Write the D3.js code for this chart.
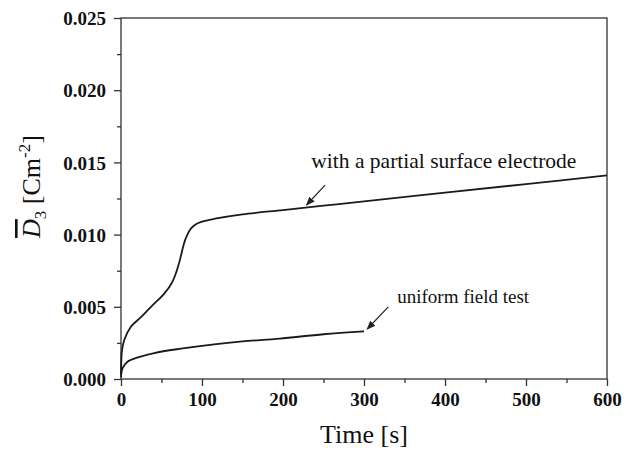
<!DOCTYPE html>
<html>
<head>
<meta charset="utf-8">
<script src="https://cdn.jsdelivr.net/npm/d3@7"></script>
<style>
  body { margin: 0; background: #fff; }
  svg text { font-family: "Liberation Serif", "DejaVu Serif", serif !important; fill: #111; }
</style>
</head>
<body>
<div id="vis"></div>
<script>
const FRAME_WIDTH = 639;
const FRAME_HEIGHT = 452;
const MARGINS = {left: 121, right: 32, top: 18, bottom: 73};
const VIS_WIDTH = FRAME_WIDTH - MARGINS.left - MARGINS.right;
const VIS_HEIGHT = FRAME_HEIGHT - MARGINS.top - MARGINS.bottom;

// partial surface electrode curve
const upperT = [0, 0.5, 1, 4, 12, 25, 37, 50, 56, 60, 64, 67, 70, 73, 76, 79, 82, 86, 92, 100, 116, 150, 200, 250, 300, 400, 500, 600];
const upperD = [0.0003, 0.0014, 0.0019, 0.0027, 0.0036, 0.0043, 0.0050, 0.0057, 0.0061, 0.0064, 0.0068, 0.0072, 0.0077, 0.0083, 0.0090, 0.0096, 0.0100, 0.0104, 0.0107, 0.0109, 0.0111, 0.0114, 0.0117, 0.0120, 0.0123, 0.0129, 0.0135, 0.0141];

// uniform field test curve
const lowerT = [0, 0.5, 2, 8, 21, 41, 74, 115, 150, 196, 250, 300];
const lowerD = [0.0001, 0.0004, 0.00075, 0.0012, 0.0015, 0.0018, 0.0021, 0.0024, 0.0026, 0.0028, 0.0031, 0.0033];

const xTicks = [0, 100, 200, 300, 400, 500, 600];
const yTicks = [0, 0.005, 0.010, 0.015, 0.020, 0.025];

// annotations: label position, arrow tail, arrow tip (data units)
const notes = [
  {text: "with a partial surface electrode", size: 21.5, lx: 235, ly: 0.0146, tx: 252, ty: 0.01343, hx: 229, hy: 0.01205},
  {text: "uniform field test", size: 19, lx: 341, ly: 0.00526, tx: 330, ty: 0.00499, hx: 304, hy: 0.00346}
];

const svg = d3.select("#vis").append("svg")
  .attr("width", FRAME_WIDTH)
  .attr("height", FRAME_HEIGHT);

const X_SCALE = d3.scaleLinear().domain([0, 600]).range([0, VIS_WIDTH]);
const Y_SCALE = d3.scaleLinear().domain([0, 0.025]).range([VIS_HEIGHT, 0]);

const g = svg.append("g")
  .attr("transform", "translate(" + MARGINS.left + "," + MARGINS.top + ")");

// frame
g.append("rect")
  .attr("width", VIS_WIDTH).attr("height", VIS_HEIGHT)
  .attr("fill", "none").attr("stroke", "#333").attr("stroke-width", 1.3);

// minor ticks
const xAxisMinor = g.append("g")
  .attr("transform", "translate(0," + VIS_HEIGHT + ")")
  .call(d3.axisBottom(X_SCALE).tickValues(d3.range(50, 600, 100)).tickSize(4).tickFormat(""));
const yAxisMinor = g.append("g")
  .call(d3.axisLeft(Y_SCALE).tickValues(d3.range(0.0025, 0.025, 0.005)).tickSize(4).tickFormat(""));

const xAxis = g.append("g")
  .attr("transform", "translate(0," + VIS_HEIGHT + ")")
  .call(d3.axisBottom(X_SCALE).tickValues(xTicks).tickSize(7).tickPadding(4).tickFormat(d3.format("d")));
const yAxis = g.append("g")
  .call(d3.axisLeft(Y_SCALE).tickValues(yTicks).tickSize(7).tickPadding(8).tickFormat(d3.format(".3f")));

[xAxisMinor, yAxisMinor, xAxis, yAxis].forEach(a => {
  a.attr("font-family", null);
  a.select(".domain").remove();
  a.selectAll("line").attr("stroke", "#333").attr("stroke-width", 1.3);
});
[xAxis, yAxis].forEach(a => {
  a.selectAll("text")
    .style("font-weight", "bold")
    .style("font-size", "19px")
    .attr("fill", "#111");
});
xAxis.selectAll("text").attr("dy", "0.85em");
yAxis.selectAll("text").attr("dy", "0.35em");

// curves
const line = d3.line()
  .x(d => X_SCALE(d[0]))
  .y(d => Y_SCALE(d[1]))
  .curve(d3.curveCatmullRom.alpha(0.5));

g.append("path")
  .datum(d3.zip(upperT, upperD))
  .attr("d", line)
  .attr("fill", "none").attr("stroke", "#1a1a1a").attr("stroke-width", 1.8);

g.append("path")
  .datum(d3.zip(lowerT, lowerD))
  .attr("d", line)
  .attr("fill", "none").attr("stroke", "#1a1a1a").attr("stroke-width", 1.8);

// arrow marker
svg.append("defs").append("marker")
  .attr("id", "arrow")
  .attr("viewBox", "0 0 10 10")
  .attr("refX", 9).attr("refY", 5)
  .attr("markerWidth", 9).attr("markerHeight", 9)
  .attr("markerUnits", "userSpaceOnUse")
  .attr("orient", "auto")
  .append("path")
    .attr("d", "M0,1 L10,5 L0,9 Z")
    .attr("fill", "#222");

notes.forEach(n => {
  g.append("line")
    .attr("x1", X_SCALE(n.tx)).attr("y1", Y_SCALE(n.ty))
    .attr("x2", X_SCALE(n.hx)).attr("y2", Y_SCALE(n.hy))
    .attr("stroke", "#222").attr("stroke-width", 1.2)
    .attr("marker-end", "url(#arrow)");
  g.append("text")
    .attr("x", X_SCALE(n.lx)).attr("y", Y_SCALE(n.ly))
    .style("font-size", n.size + "px")
    .text(n.text);
});

// axis titles
svg.append("text")
  .attr("x", MARGINS.left + VIS_WIDTH / 2).attr("y", 443)
  .attr("text-anchor", "middle")
  .style("font-size", "26px")
  .text("Time [s]");

const yTitle = svg.append("text")
  .attr("transform", "translate(40," + (MARGINS.top + VIS_HEIGHT / 2 - 12) + ") rotate(-90)")
  .attr("text-anchor", "middle")
  .style("font-size", "26px");
yTitle.append("tspan").style("font-style", "italic").attr("text-decoration", "overline").text("D");
yTitle.append("tspan").style("font-size", "17px").attr("dy", 6).text("3");
yTitle.append("tspan").attr("dy", -6).text(" [Cm");
yTitle.append("tspan").style("font-size", "17px").attr("dy", -10).text("-2");
yTitle.append("tspan").attr("dy", 10).text("]");
</script>
</body>
</html>
